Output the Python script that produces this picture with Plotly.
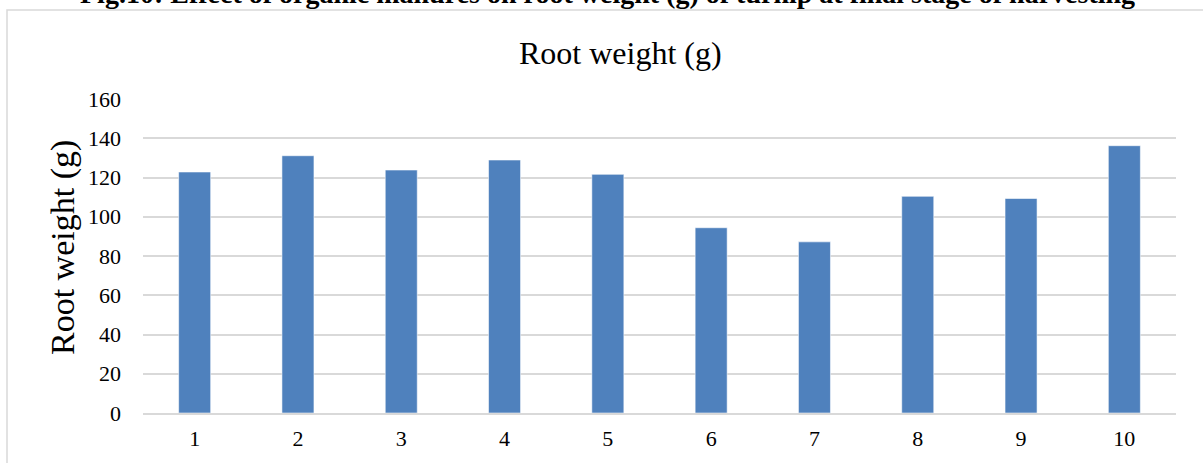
import plotly.graph_objects as go

# Treatments and mean root weight (g) at harvest
treatments = ["1", "2", "3", "4", "5", "6", "7", "8", "9", "10"]
root_weight = [122.8, 131.1, 123.8, 128.9, 121.6, 94.4, 87.2, 110.4, 109.3, 136.2]
y_ticks = [0, 20, 40, 60, 80, 100, 120, 140, 160]

W, H = 1203, 463
ML, MR, MT, MB = 143, 27, 99, 50
PW, PH = W - ML - MR, H - MT - MB

def px_x(x):
    return (x - ML) / PW

def px_y(y):
    return (H - MB - y) / PH

serif = "Liberation Serif, Times New Roman, serif"
grid = "#d9d9d9"

fig = go.Figure(
    go.Bar(
        x=treatments,
        y=root_weight,
        marker=dict(color="#4f81bd", line=dict(color="rgba(255,255,255,0.55)", width=1)),
    )
)

fig.update_layout(
    width=W,
    height=H,
    margin=dict(l=ML, r=MR, t=MT, b=MB, autoexpand=False),
    paper_bgcolor="white",
    plot_bgcolor="white",
    bargap=0.69,
    showlegend=False,
    font=dict(family=serif, color="#000000"),
)

fig.update_xaxes(
    type="category",
    automargin=False,
    showgrid=False,
    showline=True,
    linecolor=grid,
    linewidth=1.5,
    ticks="",
    tickfont=dict(size=22, family=serif, color="#000"),
    ticklabelstandoff=5,
)
fig.update_yaxes(
    range=[0, 160],
    automargin=False,
    tickvals=y_ticks,
    showgrid=True,
    gridcolor=grid,
    gridwidth=1.5,
    zeroline=False,
    showline=False,
    ticks="",
    tickfont=dict(size=22, family=serif, color="#000"),
    ticklabelstandoff=21,
)

# Axis title
fig.add_annotation(
    text="Root weight (g)",
    xref="paper", yref="paper",
    x=px_x(63), y=px_y(248),
    xanchor="center", yanchor="middle",
    textangle=-90,
    showarrow=False,
    font=dict(size=34, family=serif, color="#000"),
)

# Chart title
fig.add_annotation(
    text="Root weight (g)",
    xref="paper", yref="paper",
    x=px_x(620), y=px_y(53),
    xanchor="center", yanchor="middle",
    showarrow=False,
    font=dict(size=32, family=serif, color="#000"),
)

# Figure caption above the chart frame
fig.add_annotation(
    text="<b>Fig.10: Effect of organic manures on root weight (g) of turnip at final stage of harvesting</b>",
    xref="paper", yref="paper",
    x=px_x(607), y=px_y(11),
    xanchor="center", yanchor="bottom",
    showarrow=False,
    font=dict(size=28, family=serif, color="#000"),
)

# Chart frame
fig.add_shape(
    type="rect",
    xref="paper", yref="paper",
    x0=px_x(7), x1=px_x(W + 20),
    y0=px_y(H + 20), y1=px_y(10),
    line=dict(color=grid, width=1.5),
    fillcolor="rgba(0,0,0,0)",
    layer="below",
)

fig.write_html("out.html")
